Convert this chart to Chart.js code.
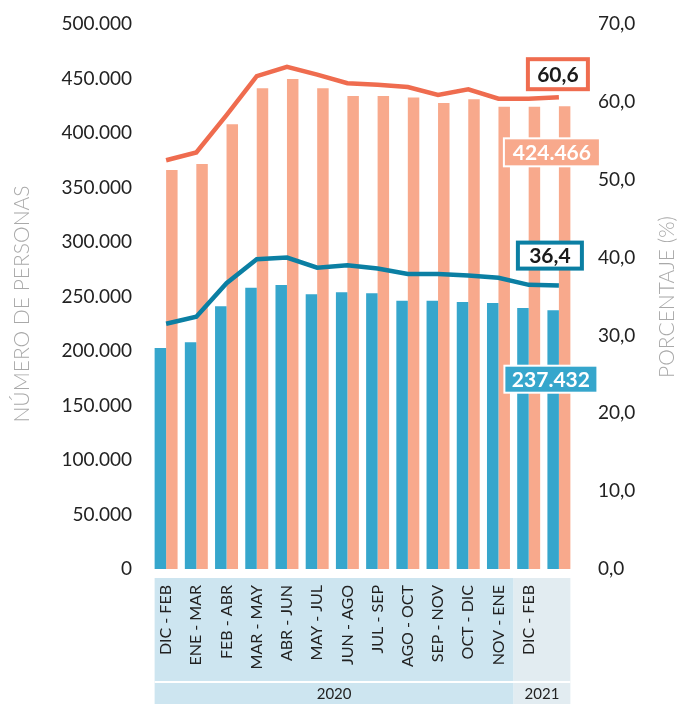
<!DOCTYPE html>
<html>
<head>
<meta charset="utf-8">
<script src="https://cdn.jsdelivr.net/npm/chart.js@4/dist/chart.umd.min.js"></script>
<style>
  html, body { margin: 0; padding: 0; background: #fff; }
  #wrap { width: 679px; height: 704px; }
</style>
</head>
<body>
<div id="wrap"><canvas id="chart"></canvas></div>
<script>
// periods (trimestres móviles); last group has no label in the original
const periods = ["DIC - FEB","ENE - MAR","FEB - ABR","MAR - MAY","ABR - JUN","MAY - JUL",
  "JUN - AGO","JUL - SEP","AGO - OCT","SEP - NOV","OCT - DIC","NOV - ENE","DIC - FEB",""];
const years = [
  { label: "2020", from: 0, to: 11 },
  { label: "2021", from: 12, to: 13 }
];

// número de personas
const personasAzul = [202700, 208000, 241000, 258000, 260500, 252000, 254000,
  253000, 246000, 246000, 245000, 244000, 239400, 237432];
const personasSalmon = [366000, 371600, 408000, 441000, 449500, 441000, 434000,
  434000, 432500, 427500, 431000, 424000, 424000, 424466];

// porcentaje (%)
const pctAzul = [31.5, 32.4, 36.7, 39.8, 40.0, 38.7, 39.0, 38.6, 37.9, 37.9, 37.7, 37.4, 36.5, 36.4];
const pctSalmon = [52.5, 53.5, 58.3, 63.3, 64.5, 63.5, 62.4, 62.2, 61.9, 60.9, 61.6, 60.4, 60.4, 60.6];

const leftTicks = [0, 50000, 100000, 150000, 200000, 250000, 300000, 350000, 400000, 450000, 500000];
const rightTicks = [0, 10, 20, 30, 40, 50, 60, 70];

const BLUE = "#36a6cc";
const SALMON = "#f8a98c";
const RED_LINE = "#ef6c4f";
const TEAL_LINE = "#0b7fa3";
const FONT = "Lato, 'Open Sans', sans-serif";
const CAT_PCT = 0.76;

function fmtMiles(v) {
  return String(Math.round(v)).replace(/\B(?=(\d{3})+(?!\d))/g, ".");
}
function fmtPct(v) {
  return v.toFixed(1).replace(".", ",");
}

// fondo de etiquetas del eje x + fila de años + títulos de ejes
const decoPlugin = {
  id: "deco",
  beforeDraw(chart) {
    const { ctx, chartArea } = chart;
    const x = chart.scales.x;
    const cw = (chartArea.right - chartArea.left) / periods.length;
    const pad = cw * (1 - CAT_PCT) / 2;
    const top = chartArea.bottom + 9;
    const bottom = chart.height;
    ctx.save();
    years.forEach((y, i) => {
      const x0 = x.getPixelForValue(y.from) - cw / 2 + (y.from === 0 ? pad : 0);
      const x1 = x.getPixelForValue(y.to) + cw / 2 - (y.to === periods.length - 1 ? pad : 0);
      ctx.fillStyle = i === 0 ? "#cde5f0" : "#e2ecf1";
      ctx.fillRect(x0, top, x1 - x0, bottom - top);
      ctx.fillStyle = "#222";
      ctx.font = "15px " + FONT;
      ctx.textAlign = "center";
      ctx.textBaseline = "middle";
      ctx.fillText(y.label, (x0 + x1) / 2, 694);
    });
    const xs = x.getPixelForValue(0) - cw / 2 + pad;
    const xe = x.getPixelForValue(periods.length - 1) + cw / 2 - pad;
    ctx.fillStyle = "#fff";
    ctx.fillRect(xs, 681, xe - xs, 2);

    ctx.fillStyle = "#a9a9a9";
    ctx.font = "300 21px " + FONT;
    ctx.textAlign = "center";
    ctx.textBaseline = "middle";
    ctx.translate(22, 304);
    ctx.rotate(-Math.PI / 2);
    ctx.fillText("NÚMERO DE PERSONAS", 0, 0);
    ctx.restore();

    ctx.save();
    ctx.fillStyle = "#a9a9a9";
    ctx.font = "300 21px " + FONT;
    ctx.textAlign = "center";
    ctx.textBaseline = "middle";
    ctx.translate(667, 297);
    ctx.rotate(-Math.PI / 2);
    ctx.fillText("PORCENTAJE (%)", 0, 0);
    ctx.restore();
  },
  afterDatasetsDraw(chart) {
    const { ctx } = chart;
    const x = chart.scales.x, yL = chart.scales.yL, yR = chart.scales.yR;
    const last = periods.length - 1;
    const xl = x.getPixelForValue(last);

    function box(cx, cy, w, h, text, fill, stroke, lw, color) {
      ctx.save();
      ctx.fillStyle = stroke;
      ctx.fillRect(cx - w / 2, cy - h / 2, w, h);
      ctx.fillStyle = fill;
      ctx.fillRect(cx - w / 2 + lw, cy - h / 2 + lw, w - 2 * lw, h - 2 * lw);
      ctx.fillStyle = color;
      ctx.font = "bold 21px " + FONT;
      ctx.textAlign = "center";
      ctx.textBaseline = "middle";
      ctx.fillText(text, cx, cy + 1);
      ctx.restore();
    }

    box(xl - 1, yR.getPixelForValue(pctSalmon[last]) - 23, 64, 34,
      fmtPct(pctSalmon[last]), "#fff", RED_LINE, 4, "#1a1a1a");
    box(xl - 7, yL.getPixelForValue(personasSalmon[last]) + 46, 98, 30,
      fmtMiles(personasSalmon[last]), SALMON, "#fff", 2, "#fff");
    box(xl - 9, yR.getPixelForValue(pctAzul[last]) - 30, 68, 30,
      fmtPct(pctAzul[last]), "#fff", TEAL_LINE, 4, "#1a1a1a");
    box(xl - 8, yL.getPixelForValue(personasAzul[last]) + 69, 95, 29,
      fmtMiles(personasAzul[last]), BLUE, "#fff", 2, "#fff");
  }
};

new Chart(document.getElementById("chart"), {
  data: {
    labels: periods,
    datasets: [
      {
        type: "line",
        data: pctSalmon,
        yAxisID: "yR",
        borderColor: RED_LINE,
        borderWidth: 4.5,
        pointRadius: 0,
        tension: 0,
        order: 0
      },
      {
        type: "line",
        data: pctAzul,
        yAxisID: "yR",
        borderColor: TEAL_LINE,
        borderWidth: 4.5,
        pointRadius: 0,
        tension: 0,
        order: 1
      },
      {
        type: "bar",
        data: personasAzul,
        yAxisID: "yL",
        backgroundColor: BLUE,
        categoryPercentage: CAT_PCT,
        barPercentage: 1,
        order: 2
      },
      {
        type: "bar",
        data: personasSalmon,
        yAxisID: "yL",
        backgroundColor: SALMON,
        categoryPercentage: CAT_PCT,
        barPercentage: 1,
        order: 3
      }
    ]
  },
  options: {
    responsive: true,
    maintainAspectRatio: false,
    animation: false,
    layout: { padding: { top: 24, left: 0, right: 0, bottom: 0 } },
    plugins: {
      legend: { display: false },
      tooltip: { enabled: false }
    },
    scales: {
      x: {
        grid: { display: false, drawTicks: false },
        border: { display: false },
        ticks: {
          color: "#222",
          font: { family: FONT, size: 16 },
          maxRotation: 90,
          minRotation: 90,
          autoSkip: false,
          padding: 16
        },
        afterFit(s) { s.height = 135; }
      },
      yL: {
        position: "left",
        min: 0,
        max: 500000,
        afterBuildTicks(s) { s.ticks = leftTicks.map(v => ({ value: v })); },
        grid: { display: false, drawTicks: false },
        border: { display: false },
        ticks: {
          color: "#222",
          font: { family: FONT, size: 19 },
          padding: 19,
          callback: v => fmtMiles(v)
        },
        afterFit(s) { s.width = 151; s.paddingTop = 0; s.paddingBottom = 0; }
      },
      yR: {
        position: "right",
        min: 0,
        max: 70,
        afterBuildTicks(s) { s.ticks = rightTicks.map(v => ({ value: v })); },
        grid: { display: false, drawTicks: false },
        border: { display: false },
        ticks: {
          color: "#222",
          font: { family: FONT, size: 19 },
          padding: 24,
          callback: v => fmtPct(v)
        },
        afterFit(s) { s.width = 105; s.paddingTop = 0; s.paddingBottom = 0; }
      }
    }
  },
  plugins: [decoPlugin]
});
</script>
</body>
</html>
